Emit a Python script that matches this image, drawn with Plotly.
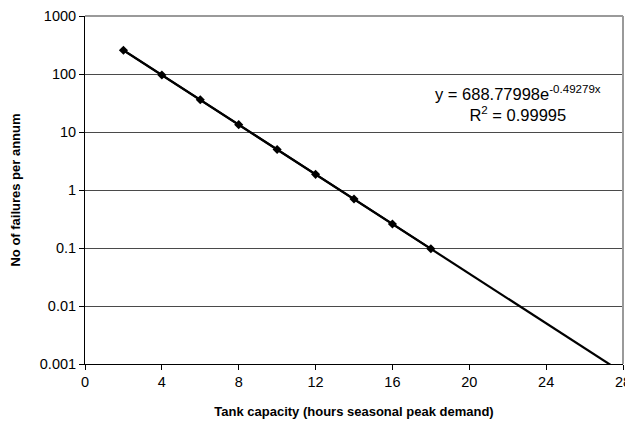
import numpy as np
import plotly.graph_objects as go

tank_capacity = [2, 4, 6, 8, 10, 12, 14, 16, 18]
failures = [257, 96, 36, 13.4, 5.0, 1.86, 0.70, 0.26, 0.097]
fit_a = 688.77998
fit_b = -0.49279
x_ticks = [0, 4, 8, 12, 16, 20, 24, 28]
y_ticks = [0.001, 0.01, 0.1, 1, 10, 100, 1000]
y_ticklabels = ["0.001", "0.01", "0.1", "1", "10", "100", "1000"]

xt = np.linspace(2, 28, 200)
yt = fit_a * np.exp(fit_b * xt)

# page body has an 8px default margin; size the figure so the page never scrolls
OFF = 8
W, H = 633 - OFF, 430 - 2 * OFF
L, R, T = 85 - OFF, 633 - 623, 16 - OFF
B = H - (364 - OFF)

fig = go.Figure()
fig.add_trace(go.Scatter(x=xt, y=yt, mode="lines",
                         line=dict(color="black", width=2.2), hoverinfo="skip"))
fig.add_trace(go.Scatter(x=tank_capacity, y=failures, mode="lines+markers",
                         line=dict(color="black", width=2),
                         marker=dict(symbol="diamond", size=7, color="black")))

fig.update_layout(
    width=W, height=H,
    margin=dict(l=L, r=R, t=T, b=B),
    paper_bgcolor="white", plot_bgcolor="white",
    showlegend=False,
    font=dict(family="Liberation Sans, Arial, sans-serif", size=14.5, color="black"),
)
fig.update_xaxes(
    range=[0, 28], tickvals=x_ticks, showgrid=False, automargin=False,
    showline=True, linecolor="black", linewidth=1,
    ticks="outside", ticklen=5, tickcolor="black",
    tickfont=dict(size=14.5), ticklabeloverflow="allow",
    title=dict(text="<b>Tank capacity (hours seasonal peak demand)</b>",
               standoff=17, font=dict(size=13)),
    zeroline=False,
)
fig.update_yaxes(
    type="log", range=[-3, 3], tickvals=y_ticks, ticktext=y_ticklabels,
    showgrid=True, gridcolor="#4a4a4a", gridwidth=1, automargin=False,
    showline=True, linecolor="black", linewidth=1,
    ticks="outside", ticklen=5, tickcolor="black",
    tickfont=dict(size=14.5),
    title=dict(text="<b>No of failures per annum</b>", standoff=17,
               font=dict(size=13)),
    zeroline=False,
)
# light grey top and right plot border
fig.add_shape(type="line", xref="paper", yref="paper", x0=0, x1=1, y0=1, y1=1,
              line=dict(color="#9a9a9a", width=2))
fig.add_shape(type="line", xref="paper", yref="paper", x0=1, x1=1, y0=0, y1=1,
              line=dict(color="#9a9a9a", width=2))

fig.add_annotation(x=(518 - 85) / (623 - 85), y=(364 - 103) / (364 - 16),
                   xref="paper", yref="paper", xanchor="center", yanchor="middle",
                   text="y = 688.77998e<sup>-0.49279x</sup><br>R<sup>2</sup> = 0.99995",
                   showarrow=False, align="center",
                   font=dict(size=16.5, color="black"))

fig.write_html("out.html")
